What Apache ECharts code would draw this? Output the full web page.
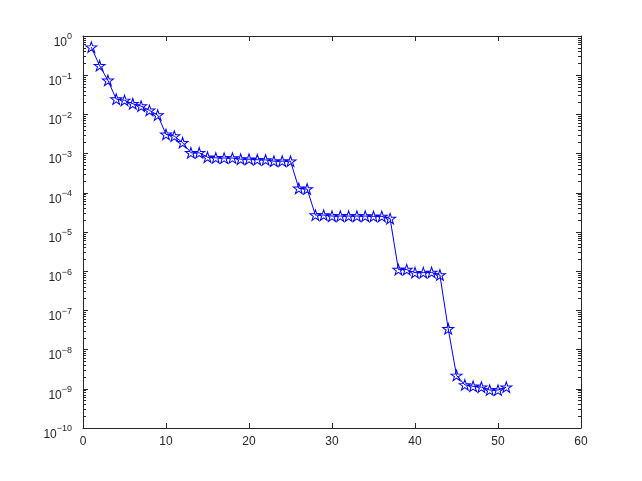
<!DOCTYPE html>
<html>
<head>
<meta charset="utf-8">
<script src="https://cdn.jsdelivr.net/npm/echarts@6/dist/echarts.min.js"></script>
<style>html,body{margin:0;padding:0;background:#fff}#c{width:642px;height:481px}</style>
</head>
<body>
<div id="c"></div>
<script>
// x positions (iteration index)
const xValues = [1,2,3,4,5,6,7,8,9,10,11,12,13,14,15,16,17,18,19,20,21,22,23,24,25,26,27,28,29,30,31,32,33,34,35,36,37,38,39,40,41,42,43,44,45,46,47,48,49,50,51];
// values (log scale)
const yValues = [
  0.52, 0.175, 0.074, 0.0246, 0.0228, 0.0187, 0.0163, 0.0127, 0.0096, 0.0031,
  0.0028, 0.0019, 0.00105, 0.00105, 0.00081, 0.00078, 0.00077, 0.00077, 0.00072, 0.00072,
  0.00070, 0.00069, 0.00064, 0.00064, 0.00064, 1.3e-4, 1.25e-4, 2.7e-5, 2.7e-5, 2.55e-5,
  2.55e-5, 2.55e-5, 2.55e-5, 2.55e-5, 2.5e-5, 2.5e-5, 2.2e-5, 1.1e-6, 1.1e-6, 9.2e-7,
  9.2e-7, 9.3e-7, 8.0e-7, 3.4e-8, 2.2e-9, 1.26e-9, 1.16e-9, 1.1e-9, 9.3e-10, 9.3e-10,
  1.1e-9
];
// axis ticks
const xTicks = [0, 10, 20, 30, 40, 50, 60];
const yExponents = [-10,-9,-8,-7,-6,-5,-4,-3,-2,-1,0];
const minorMultipliers = [2,3,4,5,6,7,8,9];

const majorY = yExponents.map(e => Math.pow(10, e));
const minorY = [];
yExponents.slice(0, -1).forEach(e => minorMultipliers.forEach(k => minorY.push(k * Math.pow(10, e))));

const axisColor = '#262626';
const font = '"Liberation Sans", Arial, Helvetica, sans-serif';

function expLabel(v) {
  const e = Math.round(Math.log10(v));
  const s = e < 0 ? '\u2212' + (-e) : String(e);
  return '{b|10}{s|' + s + '}';
}

const rich = {
  b: {fontSize: 12, fontFamily: font, color: axisColor, lineHeight: 13, padding: [7, 0, 0, 0], verticalAlign: 'top'},
  s: {fontSize: 9, fontFamily: font, color: axisColor, lineHeight: 10, padding: [3, 0, 0, 0], verticalAlign: 'top'}
};

function yAxisDef(position, ticks, len, showLine, showLabel) {
  return {
    type: 'log', logBase: 10, min: 1e-10, max: 1, position: position,
    axisLine: {show: showLine, lineStyle: {color: axisColor, width: 1}},
    axisTick: {show: true, inside: true, length: len, customValues: ticks, lineStyle: {color: axisColor, width: 1}},
    minorTick: {show: false},
    splitLine: {show: false},
    axisLabel: showLabel ? {show: true, customValues: majorY, margin: 11, formatter: expLabel, rich: rich} : {show: false}
  };
}

const chart = echarts.init(document.getElementById('c'), null, {renderer: 'canvas'});
chart.setOption({
  animation: false,
  backgroundColor: '#ffffff',
  grid: {left: 83, right: 61, top: 36, bottom: 53, containLabel: false},
  xAxis: [
    {type: 'value', min: 0, max: 60, interval: 10, position: 'bottom',
     axisLine: {show: true, onZero: false, lineStyle: {color: axisColor, width: 1}},
     axisTick: {show: true, inside: true, length: 5, lineStyle: {color: axisColor}},
     axisLabel: {show: true, margin: 8, fontSize: 12, fontFamily: font, color: axisColor,
       customValues: xTicks},
     splitLine: {show: false}},
    {type: 'value', min: 0, max: 60, interval: 10, position: 'top',
     axisLine: {show: true, onZero: false, lineStyle: {color: axisColor, width: 1}},
     axisTick: {show: true, inside: true, length: 5, lineStyle: {color: axisColor}},
     axisLabel: {show: false}, splitLine: {show: false}}
  ],
  yAxis: [
    yAxisDef('left', majorY, 5, true, true),
    yAxisDef('left', minorY, 3, false, false),
    yAxisDef('right', majorY, 5, true, false),
    yAxisDef('right', minorY, 3, false, false)
  ],
  series: [{
    type: 'line',
    xAxisIndex: 0, yAxisIndex: 0,
    data: xValues.map((x, i) => [x, yValues[i]]),
    symbol: 'path://M50 0 L61.2 34.5 L97.6 34.5 L68.2 55.9 L79.4 90.5 L50 69.1 L20.6 90.5 L31.8 55.9 L2.4 34.5 L38.8 34.5 Z',
    symbolSize: [11, 10.5],
    showAllSymbol: true,
    lineStyle: {color: '#0000ff', width: 1},
    itemStyle: {color: 'rgba(255,255,255,0)', borderColor: '#0000ff', borderWidth: 1},
    emphasis: {disabled: true}
  }]
});
</script>
</body>
</html>
